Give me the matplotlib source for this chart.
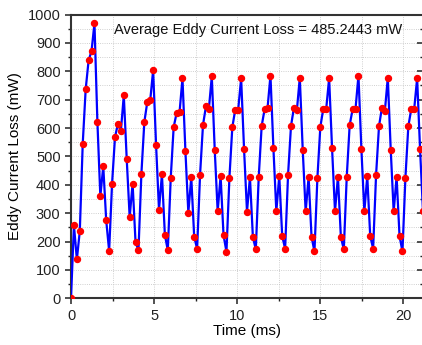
import numpy as np
import matplotlib
matplotlib.use('Agg')
import matplotlib.pyplot as plt
from matplotlib.ticker import MultipleLocator

plt.rcParams['font.family'] = ['Liberation Sans', 'DejaVu Sans']

# sampling step of the simulation (ms)
dt_ms = 0.1765

# eddy current loss per sample (mW)
loss_mw = [
    0, 257, 137, 237, 545, 736, 838, 871, 969, 621,
    360, 465, 275, 167, 404, 568, 615, 589, 715, 490,
    286, 404, 198, 169, 439, 621, 691, 697, 803, 541,
    312, 437, 224, 169, 424, 603, 653, 655, 775, 520,
    302, 427, 216, 175, 436, 611, 676, 667, 782, 523,
    307, 431, 222, 164, 424, 603, 665, 665, 775, 525,
    305, 427, 217, 172, 428, 607, 666, 670, 785, 530,
    307, 431, 219, 175, 436, 607, 672, 662, 777, 523,
    306, 427, 217, 165, 424, 604, 667, 667, 775, 528,
    306, 429, 216, 172, 427, 610, 666, 668, 785, 525,
    306, 430, 220, 175, 434, 606, 672, 660, 777, 523,
    306, 428, 219, 165, 424, 606, 667, 667, 775, 525,
    306,
]
time_ms = np.arange(len(loss_mw)) * dt_ms

avg_text = 'Average Eddy Current Loss = 485.2443 mW'

fig = plt.figure(figsize=(4.22, 3.45), dpi=100)
ax = fig.add_axes([71 / 422, 1 - 298.3 / 345, 351.5 / 422, 283.8 / 345])

ax.plot(time_ms, loss_mw, color='#0000ff', lw=1.6, marker='o',
        markersize=4.3, markerfacecolor='#ff0000', markeredgecolor='#ff0000',
        zorder=3)

ax.set_xlim(0, 21.15)
ax.set_ylim(0, 1000)
ax.xaxis.set_major_locator(MultipleLocator(5))
ax.xaxis.set_minor_locator(MultipleLocator(2.5))
ax.yaxis.set_major_locator(MultipleLocator(100))
ax.yaxis.set_minor_locator(MultipleLocator(50))

ax.grid(True, which='both', color='#c0c0c0', lw=0.6, ls=':')
ax.set_axisbelow(True)

ax.tick_params(which='both', direction='out', labelsize=10.5, colors='#222222',
               right=True, top=False)
ax.tick_params(which='major', length=4, width=1.1)
ax.tick_params(which='minor', length=2.5, width=1.0)
# right-hand ticks point inward
for t in ax.yaxis.get_major_ticks() + ax.yaxis.get_minor_ticks():
    t.tick2line.set_marker(matplotlib.lines.TICKLEFT)

for side in ['left', 'bottom', 'top']:
    ax.spines[side].set_linewidth(1.5)
    ax.spines[side].set_color('#333333')
# right edge of the frame falls just outside the picture
ax.spines['right'].set_visible(False)

ax.set_xlabel('Time (ms)', fontsize=11, labelpad=1)
ax.set_ylabel('Eddy Current Loss (mW)', fontsize=11, labelpad=4)

ax.text(0.533, 0.945, avg_text, transform=ax.transAxes, ha='center',
        va='center', fontsize=10.5, color='#111111')

fig.savefig('out.png', dpi=100)
